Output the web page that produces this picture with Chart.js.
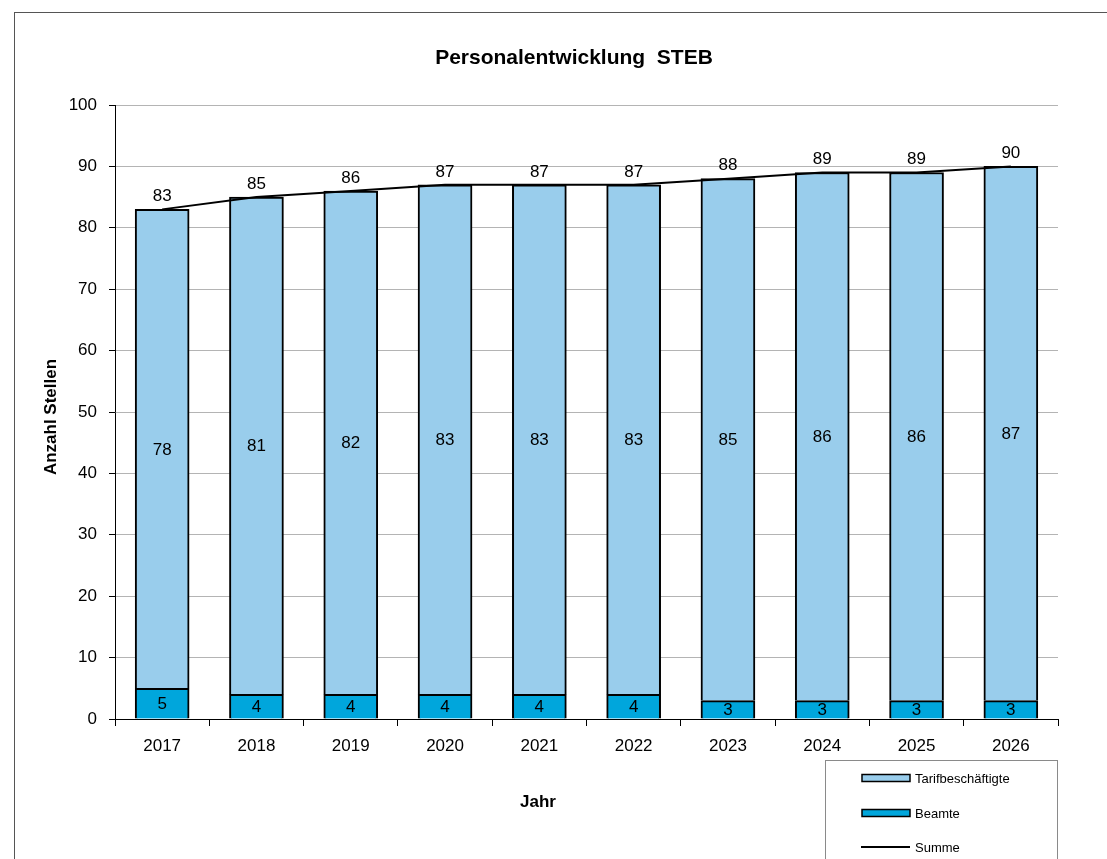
<!DOCTYPE html>
<html>
<head>
<meta charset="utf-8">
<script src="https://cdn.jsdelivr.net/npm/chart.js@4/dist/chart.umd.min.js"></script>
<style>
  html, body { margin: 0; padding: 0; background: #fff; }
  #wrap { width: 1107px; height: 859px; position: relative; }
</style>
</head>
<body>
<div id="wrap"><canvas id="myChart" width="1107" height="859"></canvas></div>
<script>
const years = ['2017', '2018', '2019', '2020', '2021', '2022', '2023', '2024', '2025', '2026']
const beamte = [5, 4, 4, 4, 4, 4, 3, 3, 3, 3]
const tarif = [78, 81, 82, 83, 83, 83, 85, 86, 86, 87]
const summe = [83, 85, 86, 87, 87, 87, 88, 89, 89, 90]

const FONT = '"Liberation Sans", Arial, sans-serif'
const tarifColor = '#99cdec'
const beamteColor = '#00a6dc'

// draws frame, titles, value labels and the legend box
const decor = {
  id: 'decor',
  beforeDraw(chart) {
    const ctx = chart.ctx
    ctx.save()
    ctx.fillStyle = '#fff'
    ctx.fillRect(0, 0, chart.width, chart.height)
    ctx.strokeStyle = '#555'
    ctx.lineWidth = 1
    ctx.strokeRect(14.5, 12.5, chart.width + 20, chart.height + 20)
    ctx.restore()
  },
  afterDraw(chart) {
    const ctx = chart.ctx
    ctx.save()
    ctx.fillStyle = '#000'
    ctx.textAlign = 'center'
    ctx.textBaseline = 'middle'

    ctx.font = 'bold 21px ' + FONT
    ctx.fillText('Personalentwicklung  STEB', 574, 58)

    ctx.font = 'bold 17px ' + FONT
    ctx.fillText('Jahr', 538, 802)
    ctx.save()
    ctx.translate(51, 417)
    ctx.rotate(-Math.PI / 2)
    ctx.fillText('Anzahl Stellen', 0, 0)
    ctx.restore()

    // value labels
    ctx.font = '17px ' + FONT
    const y = chart.scales.y
    const bMeta = chart.getDatasetMeta(0)
    const sMeta = chart.getDatasetMeta(2)
    years.forEach((yr, i) => {
      const bx = bMeta.data[i].x
      ctx.fillText(String(beamte[i]), bx, (y.getPixelForValue(0) + y.getPixelForValue(beamte[i])) / 2 + 1)
      ctx.fillText(String(tarif[i]), bx, (y.getPixelForValue(beamte[i]) + y.getPixelForValue(summe[i])) / 2 + 1)
      const p = sMeta.data[i]
      ctx.fillText(String(summe[i]), p.x, p.y - 13)
    })

    // legend
    ctx.strokeStyle = '#8a8a8a'
    ctx.lineWidth = 1
    ctx.strokeRect(825.5, 760.5, 232, 120)
    const items = [
      { label: 'Tarifbeschäftigte', color: tarifColor, y: 778 },
      { label: 'Beamte', color: beamteColor, y: 813 },
      { label: 'Summe', color: null, y: 847 }
    ]
    ctx.font = '13px ' + FONT
    ctx.textAlign = 'left'
    items.forEach(it => {
      if (it.color) {
        ctx.fillStyle = it.color
        ctx.fillRect(862, it.y - 3.5, 48, 7)
        ctx.strokeStyle = '#000'
        ctx.lineWidth = 1.5
        ctx.strokeRect(862, it.y - 3.5, 48, 7)
      } else {
        ctx.strokeStyle = '#000'
        ctx.lineWidth = 2
        ctx.beginPath()
        ctx.moveTo(861, it.y)
        ctx.lineTo(910, it.y)
        ctx.stroke()
      }
      ctx.fillStyle = '#000'
      ctx.fillText(it.label, 915, it.y + 1)
    })
    ctx.restore()
  }
}

const ctx = document.getElementById('myChart').getContext('2d')
const chart = new Chart(ctx, {
  type: 'bar',
  data: {
    labels: years,
    datasets: [
      {
        label: 'Beamte',
        data: beamte,
        backgroundColor: beamteColor,
        borderColor: '#000',
        borderWidth: 2,
        stack: 'bars',
        order: 1
      },
      {
        label: 'Tarifbeschäftigte',
        data: tarif,
        backgroundColor: tarifColor,
        borderColor: '#000',
        borderWidth: 2,
        stack: 'bars',
        order: 1
      },
      {
        type: 'line',
        label: 'Summe',
        data: summe,
        borderColor: '#000',
        borderWidth: 2,
        pointRadius: 0,
        tension: 0,
        stack: 'sum',
        order: 0
      }
    ]
  },
  options: {
    responsive: false,
    animation: false,
    events: [],
    layout: { padding: { left: 0, top: 105, right: 49, bottom: 0 } },
    datasets: { bar: { barThickness: 54 } },
    plugins: {
      legend: { display: false },
      tooltip: { enabled: false }
    },
    scales: {
      x: {
        stacked: true,
        grid: { display: true, drawOnChartArea: false, drawTicks: true, tickLength: 7, tickColor: '#000', offset: true },
        border: { color: '#000', width: 1 },
        ticks: { color: '#000', font: { family: FONT, size: 17 }, padding: 10 },
        afterFit(scale) { scale.height = 140 }
      },
      y: {
        stacked: true,
        min: 0,
        max: 100,
        ticks: { stepSize: 10, color: '#000', font: { family: FONT, size: 17 }, padding: 12 },
        grid: { color: '#b4b4b4', tickColor: '#000', tickLength: 6 },
        border: { color: '#000', width: 1 },
        afterFit(scale) { scale.width = 115 }
      }
    }
  },
  plugins: [decor]
})
</script>
</body>
</html>
